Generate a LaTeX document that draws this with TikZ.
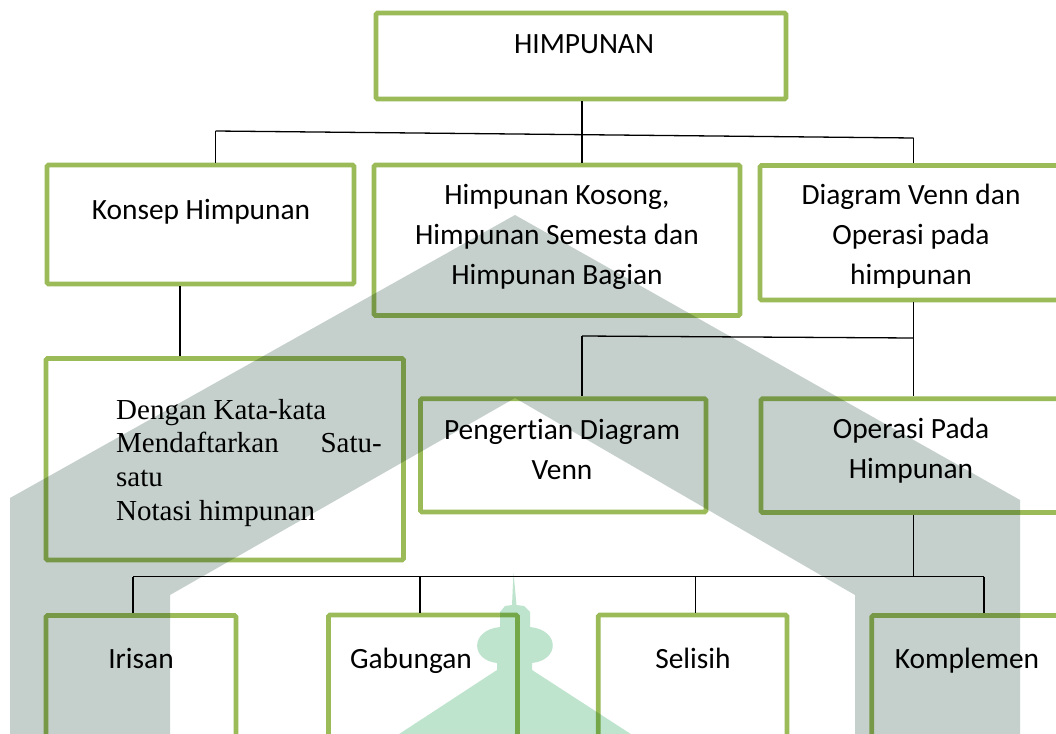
\documentclass[tikz,border=0pt]{standalone}
\usepackage{fontspec}
\setmainfont{Carlito}[Ligatures=NoCommon]
\newfontfamily\serifface{Liberation Serif}
\usetikzlibrary{fit}

\definecolor{boxgreen}{RGB}{155,187,89}
\definecolor{wmgray}{RGB}{197,208,204}
\definecolor{wmmint}{RGB}{190,228,206}

\tikzset{
  box/.style={draw=boxgreen, line width=4.7pt, rounded corners=1.5pt, rectangle, inner sep=0pt},
  wire/.style={draw=black, line width=1.3pt},
  lbl/.style={font=\fontsize{29.4}{40}\selectfont, inner sep=0pt, anchor=base},
  slbl/.style={font=\serifface\fontsize{29}{34}\selectfont, inner sep=0pt, anchor=base west},
}

\begin{document}
\begin{tikzpicture}[x=1pt, y=-1pt]
\clip (0,0) rectangle (1056,733);
\fill[white] (0,0) rectangle (1056,733);

% boxes
\node[box, fit={(376,13) (786,99)}] (himp) {};
\node[box, fit={(47,165) (354,284)}] (konsep) {};
\node[box, fit={(374,165) (740,315.5)}] (kosong) {};
\node[box, fit={(760,165.5) (1063,300)}] (venn) {};
\node[box, fit={(46,358.5) (403.5,560)}] (dengan) {};
\node[box, fit={(420.5,398.7) (706,512)}] (pengertian) {};
\node[box, fit={(761,398.7) (1063,512.5)}] (operasi) {};
\node[box, fit={(46,615.5) (236,760)}] (irisan) {};
\node[box, fit={(328.5,615) (517.5,760)}] (gabungan) {};
\node[box, fit={(598.3,615) (787,760)}] (selisih) {};
\node[box, fit={(871.7,615.5) (1063,760)}] (komplemen) {};

% bus points
\coordinate (busAL) at (215.5,131);
\coordinate (busAM) at (582,134.7);
\coordinate (busAR) at (913.5,138);
\coordinate (dropK) at (180,300);
\coordinate (busBL) at (582,336);
\coordinate (busBR) at (913.5,338);
\coordinate (busCM) at (913.5,576.5);
\coordinate (dropI) at (133,576.5);
\coordinate (dropG) at (420,576.5);
\coordinate (dropS) at (695.5,576.5);
\coordinate (dropC) at (984,576.5);

% connectors
\draw[wire] (himp.south -| busAM) -- (busAM);
\draw[wire] (busAL) -- (busAR);
\draw[wire] (busAL) -- (busAL |- konsep.north);
\draw[wire] (busAM) -- (busAM |- kosong.north);
\draw[wire] (busAR) -- (busAR |- venn.north);
\draw[wire] (konsep.south -| dropK) -- (dropK |- dengan.north);
\draw[wire] (venn.south -| busBR) -- (busBR |- operasi.north);
\draw[wire] (busBL) -- (busBR);
\draw[wire] (busBL) -- (busBL |- pengertian.north);
\draw[wire] (operasi.south -| busCM) -- (busCM);
\draw[wire] (dropI) -- (dropC);
\draw[wire] (dropI) -- (dropI |- irisan.north);
\draw[wire] (dropG) -- (dropG |- gabungan.north);
\draw[wire] (dropS) -- (dropS |- selisih.north);
\draw[wire] (dropC) -- (dropC |- komplemen.north);

% labels
\node[lbl] (tHimp) at (584,54) {HIMPUNAN};
\node[lbl] (tKonsep) at (201,219.6) {Konsep Himpunan};
\node[lbl] (tKos1) at (557,204.3) {Himpunan Kosong,};
\node[lbl] (tKos2) at (557,244.3) {Himpunan Semesta dan};
\node[lbl] (tKos3) at (557,284.3) {Himpunan Bagian};
\node[lbl] (tVen1) at (911,204.3) {Diagram Venn dan};
\node[lbl] (tVen2) at (911,244.3) {Operasi pada};
\begin{scope}
  \clip (760,165) rectangle (1063,287);
  \node[lbl] (tVen3) at (911,284.3) {himpunan};
\end{scope}
\node[lbl] (tPen1) at (562,439) {Pengertian Diagram};
\node[lbl] (tPen2) at (562,479) {Venn};
\node[lbl] (tOp1) at (911,438.5) {Operasi Pada};
\node[lbl] (tOp2) at (911,478.5) {Himpunan};
\node[lbl] (tIr) at (141,668) {Irisan};
\node[lbl] (tGab) at (411,668) {Gabungan};
\node[lbl] (tSel) at (693,668) {Selisih};
\node[lbl] (tKom) at (967,668) {Komplemen};

\node[slbl] (tDen1) at (116,419.3) {Dengan Kata-kata};
\node[slbl] (tDen2) at (116,452.5) {Mendaftarkan};
\node[slbl, anchor=base east] (tDen2b) at (382,452.5) {Satu-};
\node[slbl] (tDen3) at (116,486) {satu};
\node[slbl] (tDen4) at (116,520) {Notasi himpunan};

% watermark laid over the chart
\begin{scope}[blend mode=multiply]
  \fill[wmgray] (10,740) -- (10,498) -- (515,215) -- (1020,500) -- (1020,740)
     -- (855,740) -- (855,595) -- (515,398) -- (170,595) -- (170,740) -- cycle;
  \fill[wmmint] (513.5,573) -- (516.5,605) -- (524,606) -- (530,612) -- (530,627)
     .. controls (560,630) and (560,660) .. (532,663) -- (532,670) -- (640,740)
     -- (390,740) -- (497,670) -- (497,663)
     .. controls (470,660) and (470,630) .. (500,627) -- (500,612) -- (505,606)
     -- (512,605) -- cycle;
\end{scope}
\end{tikzpicture}
\end{document}
